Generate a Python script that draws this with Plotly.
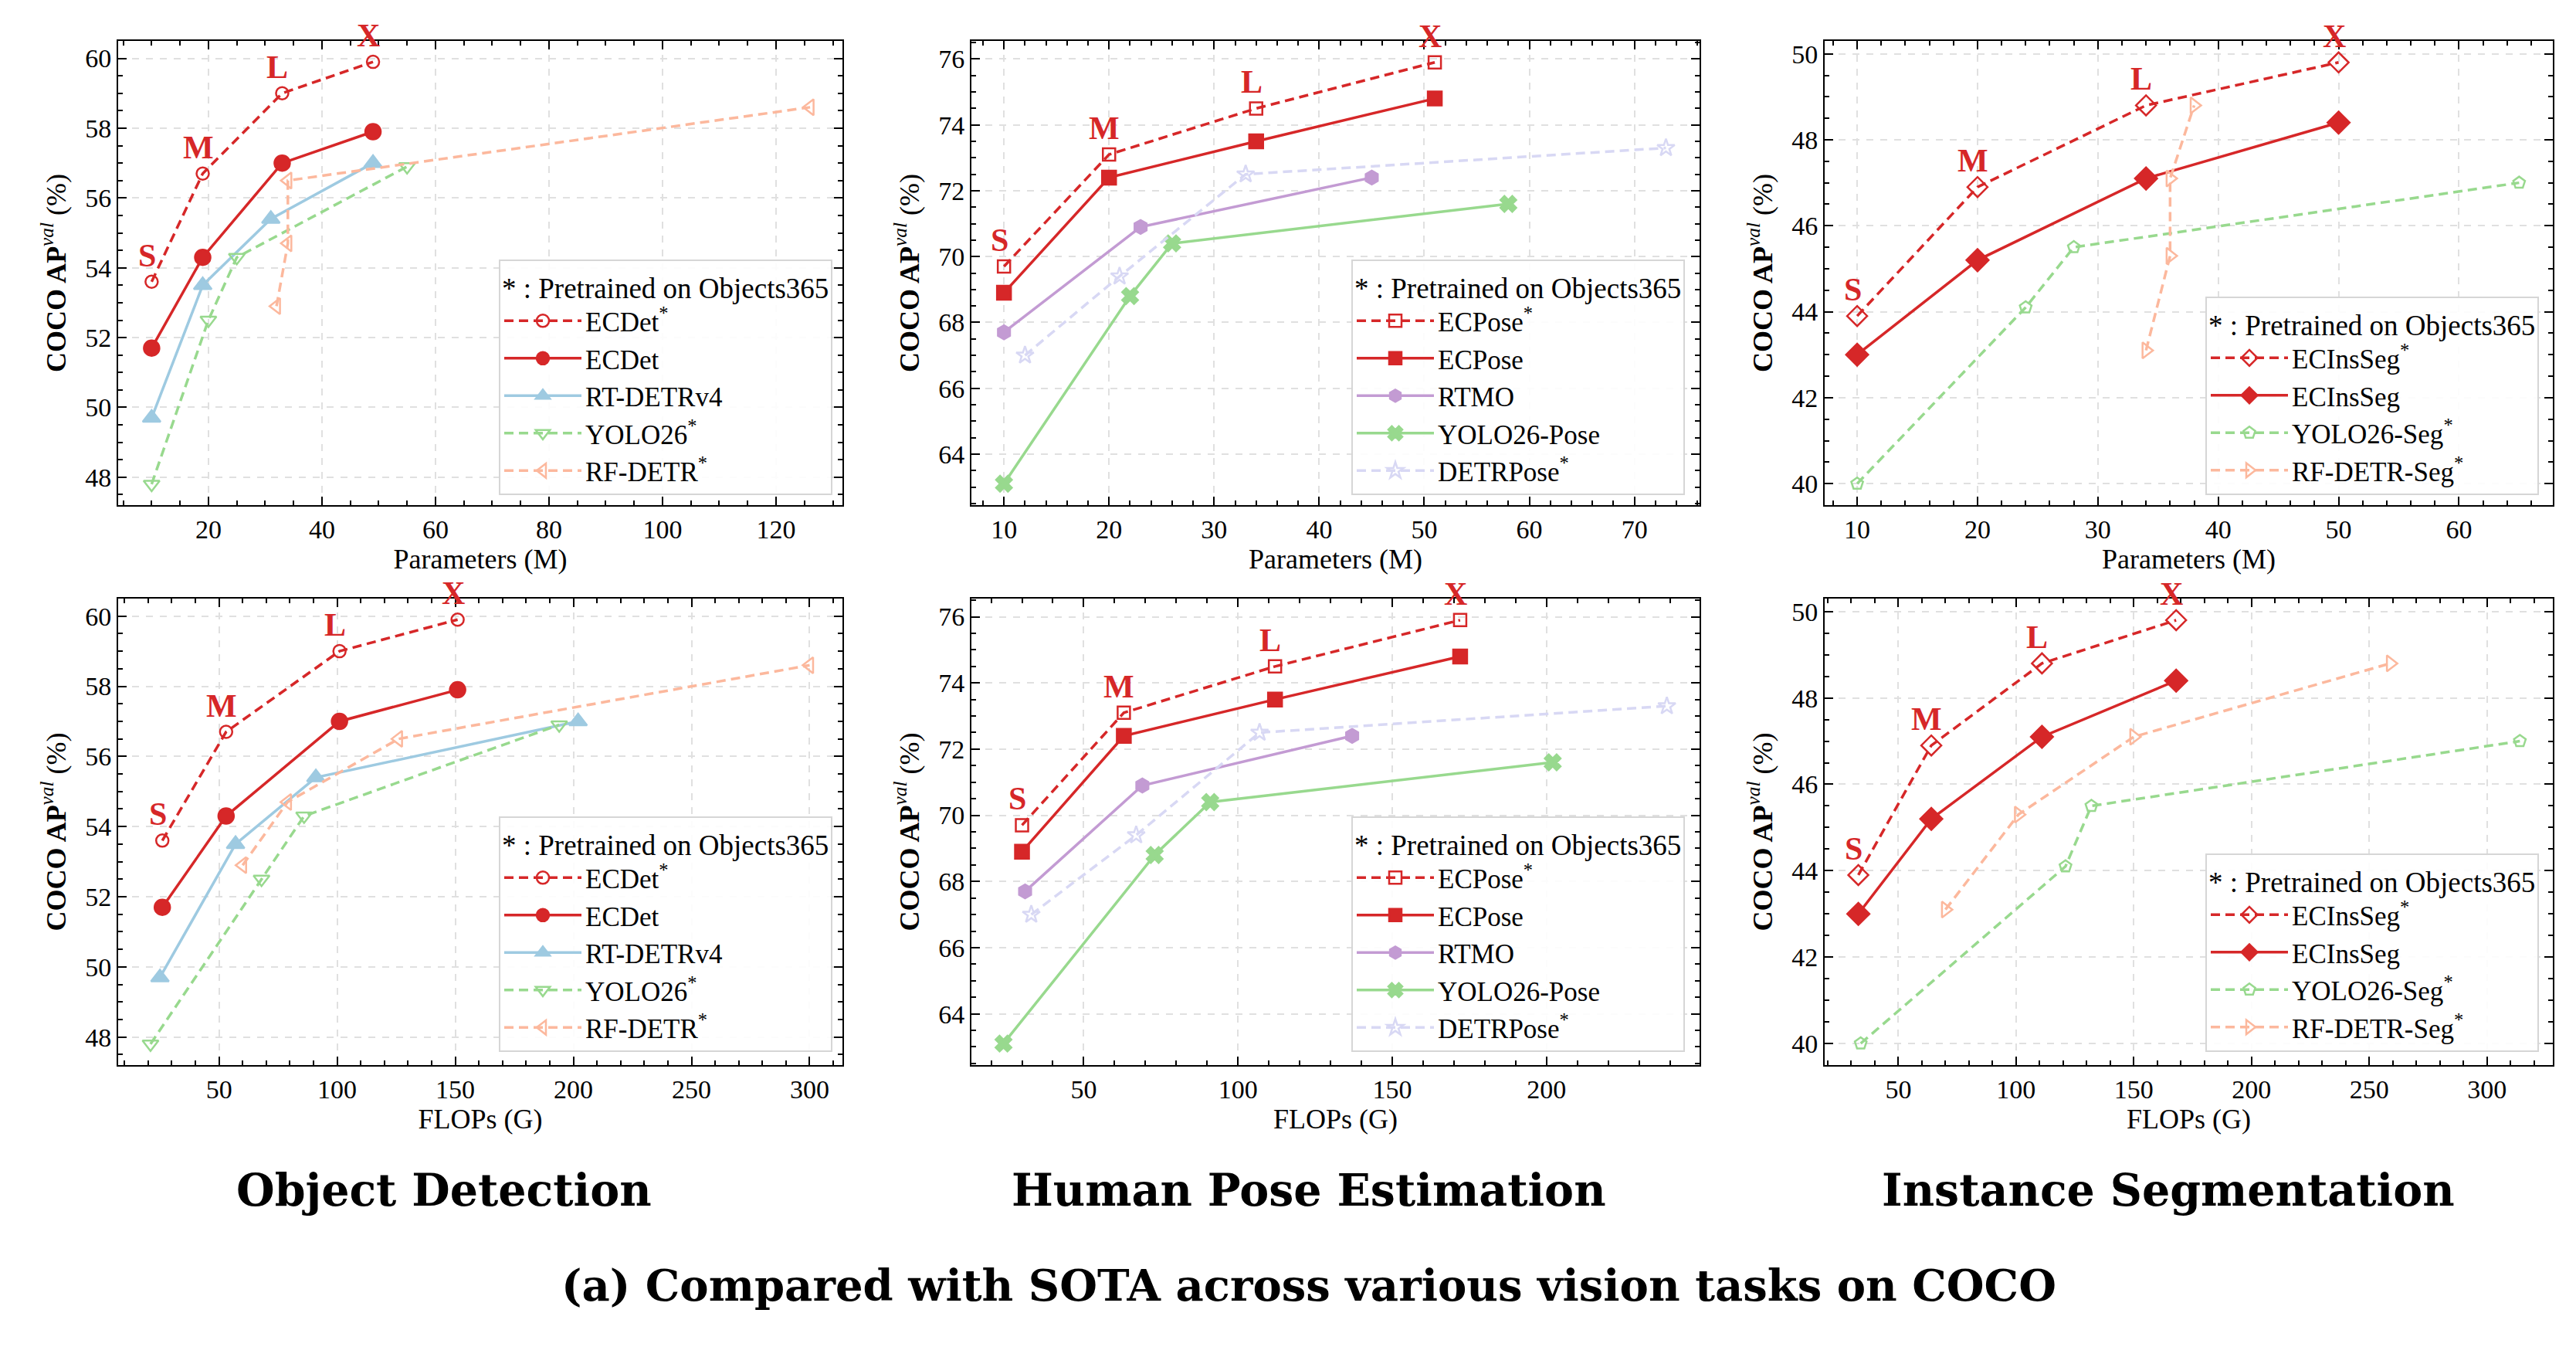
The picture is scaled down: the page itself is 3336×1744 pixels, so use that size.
import plotly.graph_objects as go

# ---- data ----
size_labels = ["S", "M", "L", "X"]

# object detection
ecdet_params = [10, 19, 33, 49]
ecdet_flops = [26, 53, 101, 151]
ecdet_star_ap = [53.6, 56.7, 59.0, 59.9]
ecdet_ap = [51.7, 54.3, 57.0, 57.9]
rtdetrv4_params = [10, 19, 31, 49]
rtdetrv4_flops = [25, 57, 91, 202]
rtdetrv4_ap = [49.7, 53.5, 55.4, 57.0]
yolo26_params = [10, 20, 25, 55]
yolo26_flops = [21, 68, 86, 194]
yolo26_ap = [47.8, 52.5, 54.3, 56.9]
rfdetr_params = [32, 34, 34, 126]
rfdetr_flops = [60, 79, 126, 300]
rfdetr_ap = [52.9, 54.7, 56.5, 58.6]

# human pose estimation
ecpose_params = [10, 20, 34, 51]
ecpose_flops = [30, 63, 112, 172]
ecpose_star_ap = [69.7, 73.1, 74.5, 75.9]
ecpose_ap = [68.9, 72.4, 73.5, 74.8]
rtmo_params = [10, 23, 45]
rtmo_flops = [31, 69, 137]
rtmo_ap = [67.7, 70.9, 72.4]
yolo26pose_params = [10, 22, 26, 58]
yolo26pose_flops = [24, 73, 91, 202]
yolo26pose_ap = [63.1, 68.8, 70.4, 71.6]
detrpose_params = [12, 21, 33, 73]
detrpose_flops = [33, 67, 107, 239]
detrpose_ap = [67.0, 69.4, 72.5, 73.3]

# instance segmentation
ecinsseg_params = [10, 20, 34, 50]
ecinsseg_flops = [33, 64, 111, 168]
ecinsseg_star_ap = [43.9, 46.9, 48.8, 49.8]
ecinsseg_ap = [43.0, 45.2, 47.1, 48.4]
yolo26seg_params = [10, 24, 28, 65]
yolo26seg_flops = [34, 121, 132, 314]
yolo26seg_ap = [40.0, 44.1, 45.5, 47.0]
rfdetrseg_params = [34, 36, 36, 38]
rfdetrseg_flops = [70, 101, 150, 259]
rfdetrseg_ap = [43.1, 45.3, 47.1, 48.8]

RED = "#d62728"
BLUE = "#9ecae1"
GREEN = "#98d98e"
ORANGE = "#fcb89d"
PURPLE = "#c39bd3"
LAVENDER = "#d8d8f4"
FONT = "Liberation Serif"
BOLD_FONT = "DejaVu Serif"
DASH = "12px,7px"

W, H = 3336, 1744
fig = go.Figure()


def add_line(n, x, y, name, color, symbol, dashed, size=16, lw=3.5):
    sfx = "" if n == 1 else str(n)
    fig.add_trace(go.Scatter(
        x=x, y=y, name=name, mode="lines+markers",
        line=dict(color=color, width=lw, dash=DASH if dashed else "solid"),
        marker=dict(symbol=symbol, size=size, color=color,
                    line=dict(width=2.5, color=color)),
        xaxis="x" + sfx, yaxis="y" + sfx, legend="legend" + sfx))


def add_sizes(n, x, y):
    sfx = "" if n == 1 else str(n)
    for xi, yi, t in zip(x, y, size_labels):
        fig.add_annotation(x=xi, y=yi, text="<b>%s</b>" % t, showarrow=False,
                           xref="x" + sfx, yref="y" + sfx, yshift=34, xshift=-6,
                           font=dict(family=FONT, size=42, color=RED))


# panel 1: detection vs params
add_line(1, ecdet_params, ecdet_star_ap, "ECDet<sup>*</sup>", RED, "circle-open", True, 16)
add_line(1, ecdet_params, ecdet_ap, "ECDet", RED, "circle", False, 20)
add_line(1, rtdetrv4_params, rtdetrv4_ap, "RT-DETRv4", BLUE, "triangle-up", False, 20)
add_line(1, yolo26_params, yolo26_ap, "YOLO26<sup>*</sup>", GREEN, "triangle-down-open", True, 18)
add_line(1, rfdetr_params, rfdetr_ap, "RF-DETR<sup>*</sup>", ORANGE, "triangle-left-open", True, 18)
add_sizes(1, ecdet_params, ecdet_star_ap)

# panel 2: pose vs params
add_line(2, ecpose_params, ecpose_star_ap, "ECPose<sup>*</sup>", RED, "square-open", True, 16)
add_line(2, ecpose_params, ecpose_ap, "ECPose", RED, "square", False, 18)
add_line(2, rtmo_params, rtmo_ap, "RTMO", PURPLE, "hexagon", False, 18)
add_line(2, yolo26pose_params, yolo26pose_ap, "YOLO26-Pose", GREEN, "x", False, 18)
add_line(2, detrpose_params, detrpose_ap, "DETRPose<sup>*</sup>", LAVENDER, "star-open", True, 17)
add_sizes(2, ecpose_params, ecpose_star_ap)

# panel 3: segmentation vs params
add_line(3, ecinsseg_params, ecinsseg_star_ap, "ECInsSeg<sup>*</sup>", RED, "diamond-open", True, 20)
add_line(3, ecinsseg_params, ecinsseg_ap, "ECInsSeg", RED, "diamond", False, 22)
add_line(3, yolo26seg_params, yolo26seg_ap, "YOLO26-Seg<sup>*</sup>", GREEN, "pentagon-open", True, 16)
add_line(3, rfdetrseg_params, rfdetrseg_ap, "RF-DETR-Seg<sup>*</sup>", ORANGE, "triangle-right-open", True, 18)
add_sizes(3, ecinsseg_params, ecinsseg_star_ap)

# panel 4: detection vs flops
add_line(4, ecdet_flops, ecdet_star_ap, "ECDet<sup>*</sup>", RED, "circle-open", True, 16)
add_line(4, ecdet_flops, ecdet_ap, "ECDet", RED, "circle", False, 20)
add_line(4, rtdetrv4_flops, rtdetrv4_ap, "RT-DETRv4", BLUE, "triangle-up", False, 20)
add_line(4, yolo26_flops, yolo26_ap, "YOLO26<sup>*</sup>", GREEN, "triangle-down-open", True, 18)
add_line(4, rfdetr_flops, rfdetr_ap, "RF-DETR<sup>*</sup>", ORANGE, "triangle-left-open", True, 18)
add_sizes(4, ecdet_flops, ecdet_star_ap)

# panel 5: pose vs flops
add_line(5, ecpose_flops, ecpose_star_ap, "ECPose<sup>*</sup>", RED, "square-open", True, 16)
add_line(5, ecpose_flops, ecpose_ap, "ECPose", RED, "square", False, 18)
add_line(5, rtmo_flops, rtmo_ap, "RTMO", PURPLE, "hexagon", False, 18)
add_line(5, yolo26pose_flops, yolo26pose_ap, "YOLO26-Pose", GREEN, "x", False, 18)
add_line(5, detrpose_flops, detrpose_ap, "DETRPose<sup>*</sup>", LAVENDER, "star-open", True, 17)
add_sizes(5, ecpose_flops, ecpose_star_ap)

# panel 6: segmentation vs flops
add_line(6, ecinsseg_flops, ecinsseg_star_ap, "ECInsSeg<sup>*</sup>", RED, "diamond-open", True, 20)
add_line(6, ecinsseg_flops, ecinsseg_ap, "ECInsSeg", RED, "diamond", False, 22)
add_line(6, yolo26seg_flops, yolo26seg_ap, "YOLO26-Seg<sup>*</sup>", GREEN, "pentagon-open", True, 16)
add_line(6, rfdetrseg_flops, rfdetrseg_ap, "RF-DETR-Seg<sup>*</sup>", ORANGE, "triangle-right-open", True, 18)
add_sizes(6, ecinsseg_flops, ecinsseg_star_ap)

# ---- layout ----
col_px = [(145, 1083), (1250, 2193), (2355, 3298)]
row_px = [(45, 646), (767, 1371)]
x_ranges = [[4.1, 131.7], [6.9, 76.2], [7.3, 67.8], [7.3, 313.9], [13.6, 249.6], [18.7, 328]]
y_ranges = [[47.2, 60.5], [62.45, 76.55], [39.5, 50.3]] * 2
x_dticks = [20, 10, 10, 50, 50, 50]
x_minor = [5, 2, 2, 10, 10, 10]
x_titles = ["Parameters (M)"] * 3 + ["FLOPs (G)"] * 3
legend_right = [1070, 2174, 3280]
legend_bottom = [633, 1354]

layout = dict(width=W, height=H, margin=dict(l=0, r=0, t=0, b=0),
              paper_bgcolor="white", plot_bgcolor="white",
              font=dict(family=FONT, size=34, color="black"))

for i in range(6):
    r, c = divmod(i, 3)
    sfx = "" if i == 0 else str(i + 1)
    x0, x1 = col_px[c]
    y0, y1 = row_px[r]
    common = dict(showline=True, linecolor="black", linewidth=2, mirror="allticks",
                  ticks="inside", ticklen=11, tickwidth=2, tickcolor="black",
                  showgrid=True, gridcolor="#e0e0e0", gridwidth=1.5, griddash="dash",
                  zeroline=False, tickfont=dict(family=FONT, size=34, color="black"))
    layout["xaxis" + sfx] = dict(
        common, domain=[x0 / W, x1 / W], range=x_ranges[i], dtick=x_dticks[i],
        tick0=0, anchor="y" + sfx,
        minor=dict(dtick=x_minor[i], ticks="inside", ticklen=6, tickwidth=1.5,
                   tickcolor="black", showgrid=False),
        title=dict(text=x_titles[i], standoff=0, font=dict(family=FONT, size=36)))
    layout["yaxis" + sfx] = dict(
        common, domain=[1 - y1 / H, 1 - y0 / H], range=y_ranges[i], dtick=2,
        tick0=0, anchor="x" + sfx,
        minor=dict(dtick=0.5, ticks="inside", ticklen=6, tickwidth=1.5,
                   tickcolor="black", showgrid=False),
        title=dict(text="<b>COCO AP</b><sup><i>val</i></sup> (%)", standoff=14,
                   font=dict(family=FONT, size=36)))
    layout["legend" + sfx] = dict(
        x=legend_right[c] / W, y=1 - legend_bottom[r] / H,
        xanchor="right", yanchor="bottom",
        bgcolor="rgba(255,255,255,0.9)", bordercolor="#d6d6d6", borderwidth=2,
        font=dict(family=FONT, size=35), itemwidth=100, tracegroupgap=0,
        title=dict(text="* : Pretrained on Objects365", font=dict(family=FONT, size=37)))

fig.update_layout(**layout)

task_names = ["Object Detection", "Human Pose Estimation", "Instance Segmentation"]
task_x = [567, 1687, 2800]
for name, tx in zip(task_names, task_x):
    fig.add_annotation(text="<b>%s</b>" % name, x=tx / W, y=1 - 1532 / H,
                       xref="paper", yref="paper", xanchor="center", yanchor="middle",
                       showarrow=False, font=dict(family=BOLD_FONT, size=57, color="black"))
fig.add_annotation(text="<b>(a) Compared with SOTA across various vision tasks on COCO</b>",
                   x=1687 / W, y=1 - 1656 / H, xref="paper", yref="paper",
                   xanchor="center", yanchor="middle",
                   showarrow=False, font=dict(family=BOLD_FONT, size=56, color="black"))

fig.write_html("out.html")
